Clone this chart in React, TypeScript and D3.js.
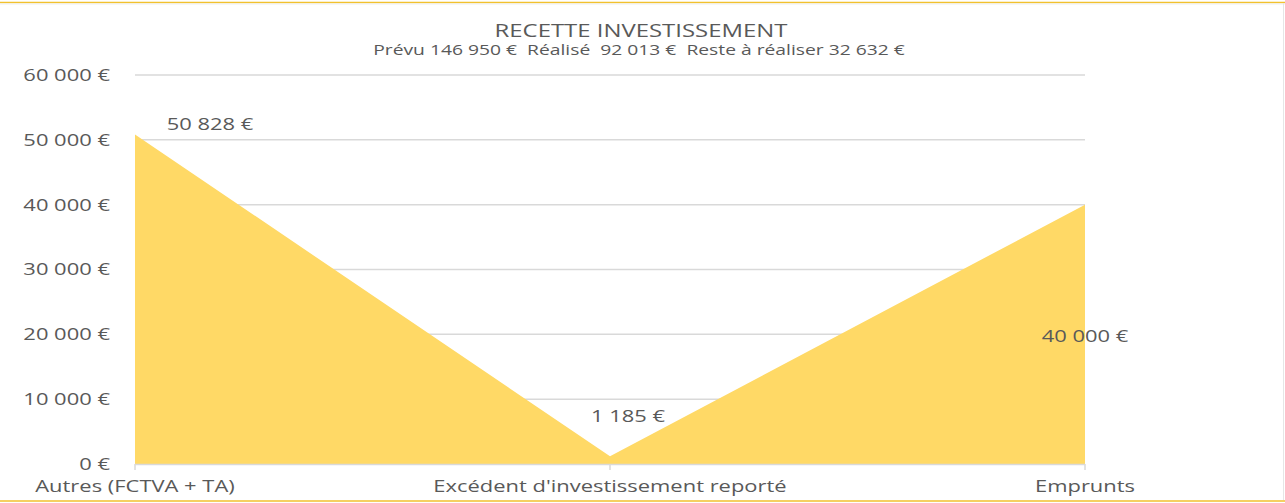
import React from "react";
import * as d3 from "d3";

const categories = ["Autres (FCTVA + TA)", "Excédent d'investissement reporté", "Emprunts"];
const values = [50828, 1185, 40000];
const dataLabels = ["50 828 €", "1 185 €", "40 000 €"];
const yTicks = [0, 10000, 20000, 30000, 40000, 50000, 60000];
const title = "RECETTE INVESTISSEMENT";
const subtitle = "Prévu 146 950 €  Réalisé  92 013 €  Reste à réaliser 32 632 €";

const W = 1285;
const H = 503;
const SX = 1.33;
const FONT = "'Open Sans', sans-serif";
const TXT = "#595959";

function T({ x, y, size, anchor = "middle", children, dy }: any) {
  return (
    <text
      transform={`translate(${x},${y}) scale(${SX},1)`}
      textAnchor={anchor}
      fontFamily={FONT}
      fontSize={size}
      fill={TXT}
      dy={dy}
      xmlSpace="preserve"
      style={{ whiteSpace: "pre" }}
    >
      {children}
    </text>
  );
}

export default function App() {
  const x = d3.scalePoint<string>().domain(categories).range([135, 1085]);
  const y = d3.scaleLinear().domain([0, 60000]).range([464, 75]);
  const pts = categories.map((c, i) => ({ c, v: values[i] }));
  const area = d3
    .area<any>()
    .x((d) => x(d.c) as number)
    .y0(y(0))
    .y1((d) => y(d.v));
  const fmt = (v: number) => d3.format(",")(v).replace(/,/g, " ") + " €";

  // label placement offsets (px) relative to point
  const labelPos = [
    (px: number, py: number, v: number) => [px + 75, py - 4.5],
    (px: number, py: number, v: number) => [px + 18, py - 34],
    (px: number, py: number, v: number) => [px, y(v / 2) + 7.5],
  ];

  return (
    <svg
      width={W}
      height={H}
      style={{ position: "absolute", left: 0, top: 0, background: "#fff" }}
    >
      <rect x={0} y={0} width={W} height={H} fill="#fff" />
      <line x1={0} x2={W} y1={2.5} y2={2.5} stroke="#F2C12E" strokeWidth={1.5} />
      <line x1={0} x2={W} y1={4} y2={4} stroke="#eef0f2" strokeWidth={1} />
      <line x1={0} x2={W} y1={501} y2={501} stroke="#F2C12E" strokeWidth={1.5} />
      <line x1={1283.5} x2={1283.5} y1={3} y2={500} stroke="#e6e6e6" strokeWidth={1} />

      {yTicks.map((t) => (
        <g key={t}>
          {t > 0 && (
            <line x1={135} x2={1085} y1={y(t)} y2={y(t)} stroke="#d9d9d9" strokeWidth={1.5} />
          )}
          <T x={110} y={y(t)} size={16.5} anchor="end" dy="0.36em">
            {fmt(t)}
          </T>
        </g>
      ))}

      <path d={area(pts) as string} fill="#FFD966" />

      <line x1={135} x2={1085} y1={464.5} y2={464.5} stroke="#d9d9d9" strokeWidth={1.5} />
      {categories.map((c) => (
        <line key={c} x1={x(c)} x2={x(c)} y1={464} y2={470} stroke="#d9d9d9" strokeWidth={1.5} />
      ))}

      {categories.map((c) => (
        <T key={c} x={x(c)} y={492} size={16.5}>
          {c}
        </T>
      ))}

      {pts.map((p, i) => {
        const [lx, ly] = labelPos[i](x(p.c) as number, y(p.v), p.v);
        return (
          <T key={p.c} x={lx} y={ly} size={16.5}>
            {dataLabels[i]}
          </T>
        );
      })}

      <T x={641} y={37} size={18}>
        {title}
      </T>
      <T x={639} y={55} size={14.5}>
        {subtitle}
      </T>
    </svg>
  );
}
